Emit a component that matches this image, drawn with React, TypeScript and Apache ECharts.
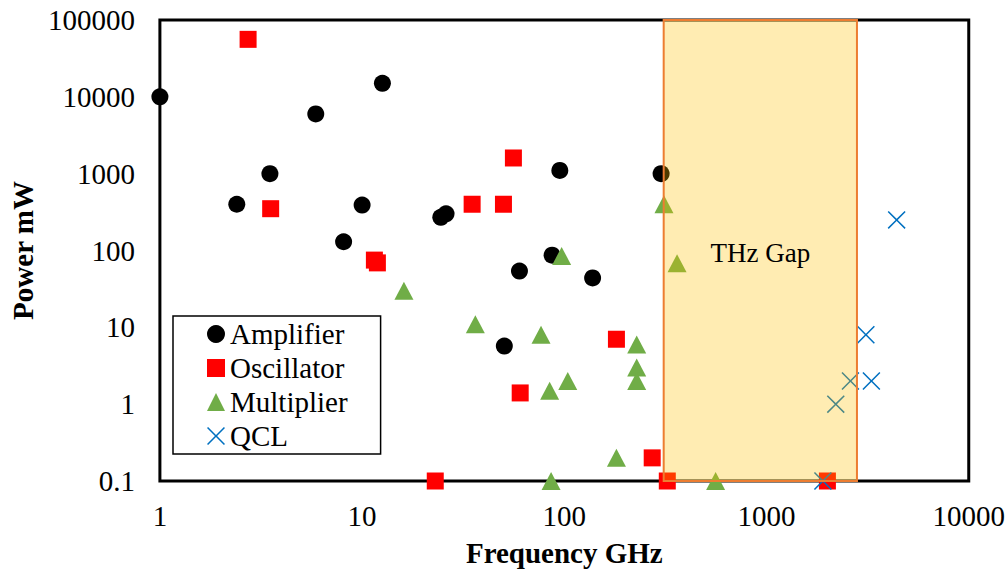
import React, { useEffect, useRef } from "react";
import * as echarts from "echarts";

// Source power (mW) versus frequency (GHz) for each device family
const amplifierData: number[][] = [
  [1, 10000], [2.4, 400], [3.5, 1000], [5.9, 6000], [8.1, 130], [10, 390],
  [12.6, 15000], [24.5, 270], [26, 300], [50.5, 5.7], [60, 54], [87, 87],
  [95, 1100], [138, 44], [301, 1000],
];
const oscillatorData: number[][] = [
  [2.73, 56000], [3.53, 350], [11.5, 75], [11.9, 69], [23, 0.1], [35, 400],
  [50, 400], [56, 1600], [60.5, 1.4], [181, 7], [272, 0.2], [323, 0.1], [2000, 0.1],
];
const multiplierData: number[][] = [
  [16.1, 30], [36.3, 11], [76.7, 8], [84.6, 1.5], [86, 0.1], [97, 85], [104, 2],
  [181, 0.2], [228, 6], [228, 3], [228, 2], [311, 400], [361, 68], [560, 0.1],
];
const qclData: number[][] = [
  [1900, 0.1], [2200, 1], [2600, 2], [3100, 8], [3300, 2], [4400, 250],
];
// Frequency band of the terahertz gap (GHz)
const thzGap: number[] = [310, 2800];

const xMin = 1;
const xMax = 10000;
const yMin = 0.1;
const yMax = 100000;

const FONT = "'Liberation Serif', 'Times New Roman', serif";
const CROSS =
  "path://M0,6L6,0L50,44L94,0L100,6L56,50L100,94L94,100L50,56L6,100L0,94L44,50Z";

const fmt = (v: number) => String(Number(v.toPrecision(6)));

export default function App() {
  const ref = useRef<HTMLDivElement>(null);

  useEffect(() => {
    if (!ref.current) return;
    const chart = echarts.init(ref.current, null, { renderer: "svg" });

    const option: any = {
      animation: false,
      backgroundColor: "#ffffff",
      grid: {
        left: 154,
        top: 20,
        right: 39,
        bottom: 96,
        show: true,
        borderColor: "#000000",
        borderWidth: 3,
        backgroundColor: "transparent",
      },
      legend: {
        data: ["Amplifier", "Oscillator", "Multiplier", "QCL"],
        orient: "vertical",
        left: 173,
        top: 316,
        padding: [1, 33, 1, 34],
        itemGap: 0,
        itemWidth: 18,
        itemHeight: 18,
        borderColor: "#000000",
        borderWidth: 1.5,
        backgroundColor: "#ffffff",
        textStyle: {
          fontFamily: FONT,
          fontSize: 29,
          lineHeight: 34,
          color: "#000000",
        },
      },
      xAxis: {
        type: "log",
        logBase: 10,
        min: xMin,
        max: xMax,
        name: "Frequency GHz",
        nameLocation: "middle",
        nameGap: 57,
        nameTextStyle: {
          fontFamily: FONT,
          fontSize: 29,
          fontWeight: "bold",
          color: "#000000",
        },
        axisLine: { show: false },
        axisTick: { show: false },
        splitLine: { show: false },
        minorTick: { show: false },
        axisLabel: {
          formatter: fmt,
          margin: 20,
          fontFamily: FONT,
          fontSize: 29,
          color: "#000000",
        },
      },
      yAxis: {
        type: "log",
        logBase: 10,
        min: yMin,
        max: yMax,
        name: "Power mW",
        nameLocation: "middle",
        nameGap: 118,
        nameRotate: 90,
        nameTextStyle: {
          fontFamily: FONT,
          fontSize: 29,
          fontWeight: "bold",
          color: "#000000",
        },
        axisLine: { show: false },
        axisTick: { show: false },
        splitLine: { show: false },
        minorTick: { show: false },
        axisLabel: {
          formatter: fmt,
          margin: 25,
          fontFamily: FONT,
          fontSize: 29,
          color: "#000000",
        },
      },
      series: [
        {
          name: "Amplifier",
          type: "scatter",
          symbol: "circle",
          symbolSize: 17,
          clip: false,
          itemStyle: { color: "#000000", opacity: 1 },
          data: amplifierData,
          z: 3,
        },
        {
          name: "Oscillator",
          type: "scatter",
          symbol: "rect",
          symbolSize: 17,
          clip: false,
          itemStyle: { color: "#ff0000", opacity: 1 },
          data: oscillatorData,
          z: 3,
        },
        {
          name: "Multiplier",
          type: "scatter",
          symbol: "triangle",
          symbolSize: [19, 18],
          clip: false,
          itemStyle: { color: "#70ad47", opacity: 1 },
          data: multiplierData,
          z: 3,
        },
        {
          name: "QCL",
          type: "scatter",
          symbol: CROSS,
          symbolSize: 18,
          clip: false,
          itemStyle: { color: "#0070c0", opacity: 1 },
          data: qclData,
          z: 3,
        },
        {
          name: "THz Gap",
          type: "custom",
          clip: false,
          z: 10,
          data: [thzGap],
          encode: { x: [0, 1] },
          renderItem: (_params: any, api: any) => {
            const p0 = api.coord([api.value(0), yMax]);
            const p1 = api.coord([api.value(1), yMin]);
            return {
              type: "group",
              children: [
                {
                  type: "rect",
                  shape: {
                    x: p0[0],
                    y: p0[1],
                    width: p1[0] - p0[0],
                    height: p1[1] - p0[1],
                  },
                  style: {
                    fill: "rgba(255,192,0,0.3)",
                    stroke: "#ed7d31",
                    lineWidth: 2,
                  },
                },
                {
                  type: "text",
                  x: (p0[0] + p1[0]) / 2,
                  y: (p0[1] + p1[1]) / 2 + 2,
                  style: {
                    text: "THz Gap",
                    fontFamily: FONT,
                    fontSize: 27,
                    fill: "#000000",
                    align: "center",
                    verticalAlign: "middle",
                  },
                },
              ],
            };
          },
        },
      ],
    };

    chart.setOption(option);
    return () => chart.dispose();
  }, []);

  return (
    <div
      ref={ref}
      style={{ position: "absolute", left: 0, top: 0, width: 1008, height: 577 }}
    />
  );
}
